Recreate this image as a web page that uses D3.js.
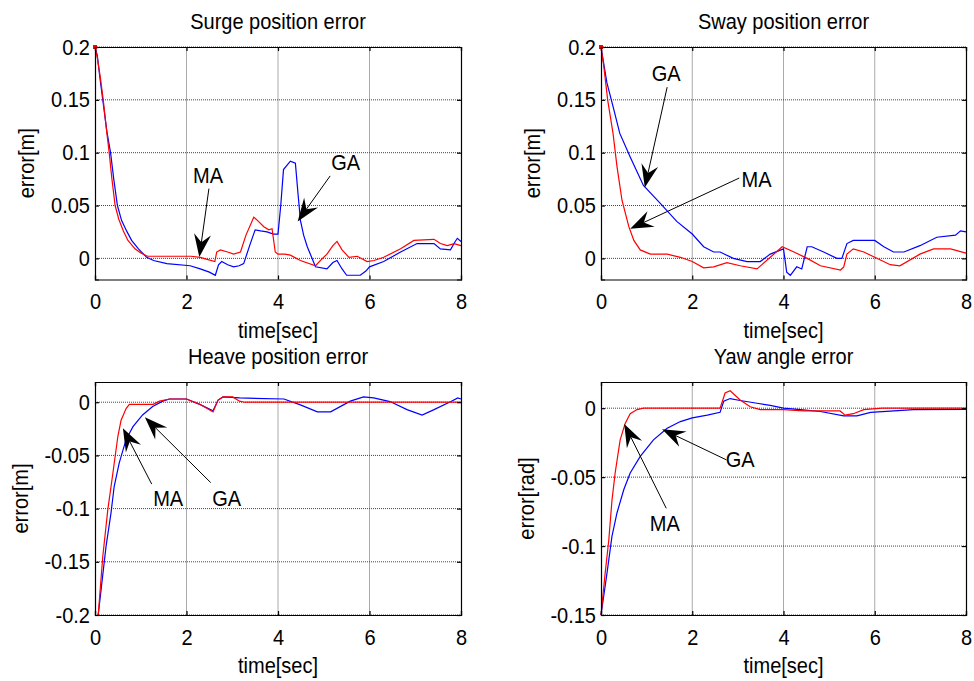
<!DOCTYPE html>
<html>
<head>
<meta charset="utf-8">
<script src="https://cdn.jsdelivr.net/npm/d3@7"></script>
<style>
  body { margin: 0; background: #fff; }
  svg text { font-family: "Liberation Sans", Arial, sans-serif; fill: #000; }
</style>
</head>
<body>
<div id="chart"></div>
<script>
"use strict";

// ---- data: [time (s), error] ----
const xTicks = [0, 2, 4, 6, 8];
const posTicks = [0, 0.05, 0.1, 0.15, 0.2];
const heaveTicks = [-0.2, -0.15, -0.1, -0.05, 0];
const yawTicks = [-0.15, -0.1, -0.05, 0];

const surgeMA = [[0,0.2],[0.05,0.19],[0.12,0.17],[0.18,0.15],[0.25,0.122],[0.31,0.1],[0.37,0.075],[0.44,0.05],
  [0.52,0.037],[0.62,0.026],[0.72,0.017],[0.875,0.009],[1.0,0.005],[1.15,0.002],[2.1,0.002],[2.3,0.001],
  [2.45,-0.001],[2.62,-0.003],[2.66,0.006],[2.74,0.008],[2.9,0.006],[3.03,0.004],[3.18,0.006],[3.3,0.022],
  [3.47,0.039],[3.55,0.036],[3.69,0.030],[3.8,0.027],[3.87,0.028],[3.94,0.006],[4.0,0.004],[4.15,0.004],
  [4.27,0.003],[4.49,-0.002],[4.82,-0.007],[4.95,-0.001],[5.07,0.004],[5.2,0.012],[5.29,0.016],[5.4,0.008],
  [5.55,0.001],[5.73,0.002],[5.95,-0.003],[6.1,-0.002],[6.31,0.001],[6.68,0.009],[6.97,0.017],[7.41,0.018],
  [7.55,0.014],[7.7,0.012],[7.85,0.014],[8,0.012]];
const surgeGA = [[0,0.2],[0.05,0.192],[0.11,0.17],[0.17,0.15],[0.26,0.12],[0.34,0.1],[0.41,0.075],[0.49,0.05],
  [0.58,0.036],[0.69,0.026],[0.8,0.017],[0.95,0.009],[1.13,0.001],[1.28,-0.002],[1.57,-0.005],[2.08,-0.007],
  [2.3,-0.01],[2.5,-0.013],[2.63,-0.016],[2.7,-0.006],[2.77,-0.003],[2.9,-0.006],[3.03,-0.008],[3.15,-0.007],
  [3.25,-0.005],[3.38,0.012],[3.5,0.027],[3.62,0.026],[3.76,0.025],[3.9,0.023],[4.0,0.023],[4.06,0.05],
  [4.12,0.084],[4.27,0.092],[4.38,0.090],[4.44,0.06],[4.49,0.036],[4.56,0.022],[4.64,0.011],[4.82,-0.008],
  [5.07,-0.010],[5.2,-0.004],[5.29,-0.002],[5.4,-0.01],[5.5,-0.016],[5.8,-0.016],[5.92,-0.012],[6.0,-0.008],
  [6.31,-0.003],[6.68,0.006],[7.04,0.014],[7.41,0.014],[7.55,0.009],[7.77,0.008],[7.86,0.015],[7.92,0.019],[8,0.016]];

const swayMA = [[0,0.2],[0.06,0.182],[0.146,0.15],[0.263,0.1185],[0.35,0.087],[0.46,0.055],[0.61,0.03],
  [0.72,0.017],[0.86,0.008],[1.08,0.004],[1.45,0.004],[1.74,0.001],[2.0,-0.003],[2.25,-0.009],[2.47,-0.008],
  [2.76,-0.004],[3.05,-0.007],[3.42,-0.01],[3.71,0.001],[3.97,0.011],[4.23,0.006],[4.52,0.0],[4.81,-0.007],
  [5.25,-0.011],[5.32,-0.008],[5.39,0.004],[5.53,0.009],[5.76,0.006],[6.0,0.001],[6.34,-0.006],[6.55,-0.007],
  [6.99,0.004],[7.29,0.009],[7.66,0.009],[8,0.005]];
const swayGA = [[0,0.2],[0.13,0.166],[0.28,0.141],[0.41,0.1185],[0.64,0.096],[0.93,0.069],[1.3,0.052],
  [1.66,0.035],[2.0,0.023],[2.25,0.011],[2.47,0.006],[2.61,0.006],[2.9,0.0],[3.2,-0.003],[3.49,-0.003],
  [3.71,0.004],[4.0,0.009],[4.07,-0.013],[4.15,-0.016],[4.29,-0.008],[4.4,-0.010],[4.52,0.011],[4.62,0.011],
  [4.88,0.006],[5.17,0.0],[5.28,0.0],[5.39,0.014],[5.53,0.017],[6.0,0.017],[6.2,0.011],[6.41,0.006],
  [6.64,0.006],[6.99,0.012],[7.36,0.020],[7.77,0.022],[7.88,0.026],[8,0.025]];

const heaveMA = [[0.07,-0.2],[0.17,-0.145],[0.28,-0.101],[0.39,-0.067],[0.5,-0.032],[0.57,-0.017],
  [0.68,-0.006],[0.75,-0.002],[1.27,-0.002],[1.41,0.001],[1.63,0.003],[2.0,0.003],[2.29,-0.002],
  [2.58,-0.009],[2.69,0.002],[2.8,0.005],[3.01,0.005],[3.16,0.001],[3.27,0],[8,0]];
const heaveGA = [[0.07,-0.2],[0.24,-0.136],[0.35,-0.104],[0.42,-0.079],[0.53,-0.057],[0.68,-0.035],
  [0.83,-0.023],[1.04,-0.012],[1.26,-0.004],[1.48,0.001],[1.63,0.003],[2.0,0.003],[2.29,-0.002],
  [2.58,-0.008],[2.69,0.002],[2.8,0.005],[3.16,0.004],[4.13,0.003],[4.49,-0.0025],[4.86,-0.009],
  [5.15,-0.009],[5.58,0.001],[5.87,0.005],[6.09,0.004],[6.45,0.0006],[6.82,-0.007],[7.15,-0.012],
  [7.41,-0.007],[7.78,0.0006],[7.93,0.004],[8,0.003]];

const yawMA = [[0,-0.15],[0.09,-0.12],[0.17,-0.096],[0.24,-0.067],[0.31,-0.047],[0.42,-0.023],
  [0.53,-0.011],[0.64,-0.004],[0.79,-0.001],[0.93,0],[2.61,0],[2.72,0.011],[2.83,0.0126],[3.05,0.006],
  [3.27,0.001],[3.49,-0.001],[4.0,-0.001],[4.44,-0.002],[5.24,-0.002],[5.35,-0.005],[5.53,-0.004],
  [5.76,-0.001],[6.16,0],[8,0]];
const yawGA = [[0,-0.15],[0.13,-0.12],[0.24,-0.093],[0.35,-0.076],[0.5,-0.059],[0.64,-0.047],
  [0.86,-0.035],[1.15,-0.023],[1.45,-0.0145],[1.74,-0.0097],[2.0,-0.007],[2.33,-0.005],[2.61,-0.003],
  [2.69,0.005],[2.83,0.007],[3.05,0.0056],[3.42,0.0036],[3.71,0.002],[4.0,0],[4.37,-0.001],
  [4.81,-0.0024],[5.32,-0.0056],[5.61,-0.0056],[5.91,-0.003],[6.85,-0.001],[8,-0.0008]];

// annotations: label, text anchor point, arrow start, arrow tip (data units)
const surgeNotes = [
  { label: "MA", text: [2.47, 0.0717], from: [2.49, 0.066], to: [2.28, 0.0012] },
  { label: "GA", text: [5.48, 0.084], from: [5.14, 0.078], to: [4.43, 0.035] }];
const swayNotes = [
  { label: "GA", text: [1.43, 0.168], from: [1.45, 0.162], to: [0.96, 0.067] },
  { label: "MA", text: [3.41, 0.068], from: [3.03, 0.076], to: [0.64, 0.028] }];
const heaveNotes = [
  { label: "MA", text: [1.6, -0.098], from: [1.24, -0.077], to: [0.61, -0.0245] },
  { label: "GA", text: [2.88, -0.098], from: [2.53, -0.0756], to: [1.09, -0.0141] }];
const yawNotes = [
  { label: "GA", text: [3.05, -0.0424], from: [2.75, -0.0375], to: [1.34, -0.0152] },
  { label: "MA", text: [1.4, -0.089], from: [1.43, -0.0726], to: [0.51, -0.0114] }];

const msm = { width: 974, height: 681, fontSize: 22, squeeze: 0.91 };

const panels = [
  { title: "Surge position error", ylabel: "error[m]", left: 95, right: 461, top: 47, bottom: 279.5,
    ydom: [-0.02, 0.2], yticks: posTicks, ma: surgeMA, ga: surgeGA, notes: surgeNotes, labelOff: 61, marker: true },
  { title: "Sway position error", ylabel: "error[m]", left: 601, right: 966, top: 47, bottom: 279.5,
    ydom: [-0.02, 0.2], yticks: posTicks, ma: swayMA, ga: swayGA, notes: swayNotes, labelOff: 61, marker: true },
  { title: "Heave position error", ylabel: "error[m]", left: 95, right: 461, top: 382, bottom: 615,
    ydom: [-0.2, 0.019], yticks: heaveTicks, ma: heaveMA, ga: heaveGA, notes: heaveNotes, labelOff: 67, marker: false },
  { title: "Yaw angle error", ylabel: "error[rad]", left: 601, right: 966, top: 382, bottom: 615,
    ydom: [-0.15, 0.019], yticks: yawTicks, ma: yawMA, ga: yawGA, notes: yawNotes, labelOff: 67, marker: false }
];

const svg = d3.select("#chart").append("svg")
  .attr("width", msm.width)
  .attr("height", msm.height);

for (const p of panels) drawPanel(p);

// text in the figure is a little narrow, squash it horizontally
function squeezeText(sel, extra) {
  sel.each(function () {
    const t = d3.select(this);
    const x = +t.attr("x") || 0, y = +t.attr("y") || 0;
    t.attr("x", 0).attr("y", 0)
      .attr("transform", "translate(" + x + "," + y + ")" + (extra || "") + " scale(" + msm.squeeze + ",1)");
  });
}

function drawPanel(p) {
  const g = svg.append("g");
  const xScale = d3.scaleLinear().domain([0, 8]).range([p.left, p.right]);
  const yScale = d3.scaleLinear().domain(p.ydom).range([p.bottom, p.top]);

  // grid
  g.selectAll(".vgrid").data(xTicks.slice(1, -1)).enter().append("line")
    .attr("x1", d => xScale(d)).attr("x2", d => xScale(d))
    .attr("y1", p.top).attr("y2", p.bottom)
    .attr("stroke", "#aaa").attr("stroke-width", 1);
  g.selectAll(".hgrid").data(p.yticks).enter().append("line")
    .attr("x1", p.left).attr("x2", p.right)
    .attr("y1", d => yScale(d)).attr("y2", d => yScale(d))
    .attr("stroke", "#444").attr("stroke-width", 1).attr("stroke-dasharray", "1,1");

  // lines
  const line = d3.line().x(d => xScale(d[0])).y(d => yScale(d[1]));
  g.append("path").datum(p.ga).attr("d", line)
    .attr("fill", "none").attr("stroke", "#0000ff").attr("stroke-width", 1.2);
  g.append("path").datum(p.ma).attr("d", line)
    .attr("fill", "none").attr("stroke", "#ff0000").attr("stroke-width", 1.2);
  if (p.marker) {
    g.append("rect")
      .attr("x", xScale(p.ma[0][0]) - 2).attr("y", yScale(p.ma[0][1]) - 2)
      .attr("width", 4).attr("height", 4).attr("fill", "#ff0000");
  }

  // axes with inward ticks on all sides
  const fs = msm.fontSize + "px";
  const xb = g.append("g").attr("transform", "translate(0," + p.bottom + ")")
    .call(d3.axisBottom(xScale).tickValues(xTicks).tickSize(-4).tickPadding(14).tickFormat(d => String(d)));
  const yl = g.append("g").attr("transform", "translate(" + p.left + ",0)")
    .call(d3.axisLeft(yScale).tickValues(p.yticks).tickSize(-4).tickPadding(5).tickFormat(d => String(d)));
  g.append("g").attr("transform", "translate(0," + p.top + ")")
    .call(d3.axisTop(xScale).tickValues(xTicks).tickSize(-4).tickFormat(""));
  g.append("g").attr("transform", "translate(" + p.right + ",0)")
    .call(d3.axisRight(yScale).tickValues(p.yticks).tickSize(-4).tickFormat(""));
  g.selectAll(".domain").attr("stroke", "#000").attr("stroke-width", 1.2);
  g.selectAll(".tick line").attr("stroke", "#000").attr("stroke-width", 1.2);
  for (const ax of [xb, yl]) {
    ax.selectAll("text").style("font-size", fs).attr("fill", "#000");
    squeezeText(ax.selectAll("text"));
  }

  // titles and labels
  const cx = (p.left + p.right) / 2;
  const cy = (p.top + p.bottom) / 2;
  const title = g.append("text").attr("x", cx).attr("y", p.top - 18.5)
    .attr("text-anchor", "middle").style("font-size", fs).text(p.title);
  const xlab = g.append("text").attr("x", cx).attr("y", p.bottom + 58)
    .attr("text-anchor", "middle").style("font-size", fs).text("time[sec]");
  squeezeText(title);
  squeezeText(xlab);
  g.append("text")
    .attr("text-anchor", "middle")
    .attr("transform", "translate(" + (p.left - p.labelOff) + "," + cy + ") rotate(-90) scale(" + msm.squeeze + ",1)")
    .style("font-size", fs).text(p.ylabel);

  // annotation arrows
  for (const n of p.notes) {
    const sx = xScale(n.from[0]), sy = yScale(n.from[1]);
    const tx = xScale(n.to[0]), ty = yScale(n.to[1]);
    const len = Math.hypot(tx - sx, ty - sy);
    const ux = (tx - sx) / len, uy = (ty - sy) / len;
    const nx = -uy, ny = ux;
    const L = 23, W = 8.5, notch = 8;
    const bx = tx - L * ux, by = ty - L * uy;
    const mx = tx - (L - notch) * ux, my = ty - (L - notch) * uy;
    g.append("line").attr("x1", sx).attr("y1", sy).attr("x2", mx).attr("y2", my)
      .attr("stroke", "#000").attr("stroke-width", 1);
    g.append("path")
      .attr("d", "M" + tx + "," + ty + "L" + (bx + W * nx) + "," + (by + W * ny) +
        "L" + mx + "," + my + "L" + (bx - W * nx) + "," + (by - W * ny) + "Z")
      .attr("fill", "#000");
    const lab = g.append("text").attr("x", xScale(n.text[0])).attr("y", yScale(n.text[1]))
      .attr("text-anchor", "middle").style("font-size", fs).text(n.label);
    squeezeText(lab);
  }
}
</script>
</body>
</html>
